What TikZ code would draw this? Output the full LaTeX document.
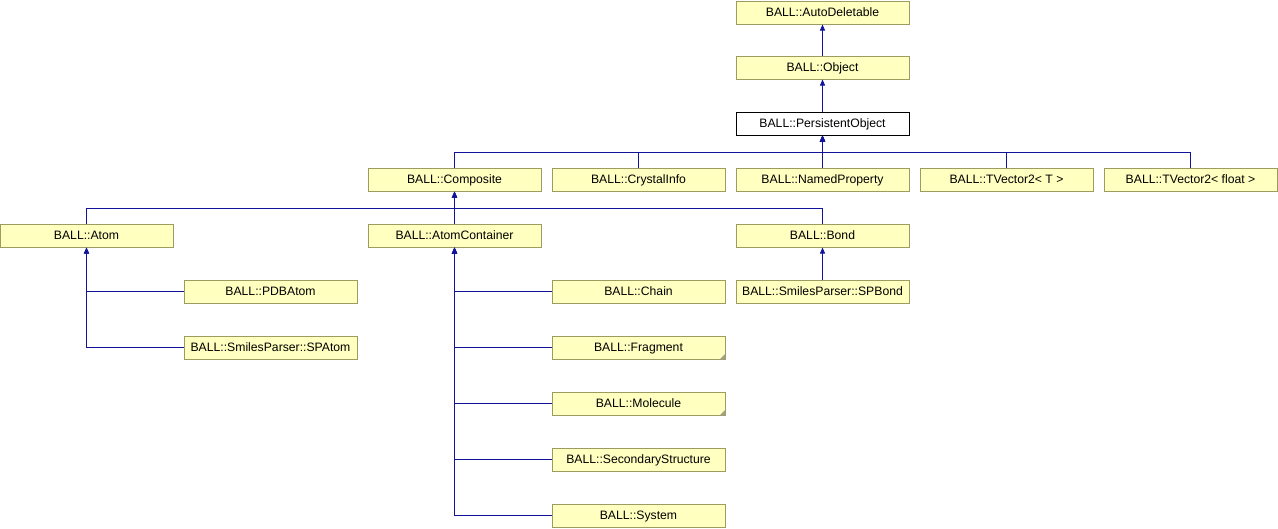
\documentclass[tikz,border=0pt]{standalone}
\usepackage{fontspec}
\setmainfont{Liberation Sans}
\usetikzlibrary{arrows.meta}
\definecolor{boxfill}{HTML}{FFFFC0}
\definecolor{boxedge}{HTML}{9C9C60}
\definecolor{edgeblue}{HTML}{12129A}
\definecolor{foldc}{HTML}{A0A080}
\begin{document}
\begin{tikzpicture}[x=1pt,y=-1pt,
  cls/.style={draw=boxedge,fill=boxfill,line width=1pt,minimum width=173pt,minimum height=23pt,inner sep=0pt,text height=8.8pt,text depth=0.6pt,font=\fontsize{12.2}{14}\selectfont},
  cur/.style={cls,draw=black,fill=white},
  inh/.style={draw=edgeblue,line width=1pt,-{Triangle[length=6pt,width=5pt]}},
  fold/.style={fill=foldc,draw=none}]
\useasboundingbox (0,0) rectangle (1278,528);
% rows
\node[cls] (auto) at (822.5,12.5) {BALL::AutoDeletable};
\node[cls] (obj) at (822.5,67.5) {BALL::Object};
\node[cur] (pers) at (822.5,123.5) {BALL::PersistentObject};
\node[cls] (comp) at (454.5,179.5) {BALL::Composite};
\node[cls] (crys) at (638.5,179.5) {BALL::CrystalInfo};
\node[cls] (named) at (822.5,179.5) {BALL::NamedProperty};
\node[cls] (tvt) at (1006.5,179.5) {BALL::TVector2< T >};
\node[cls] (tvf) at (1190.5,179.5) {BALL::TVector2< float >};
\node[cls] (atom) at (86.5,235.5) {BALL::Atom};
\node[cls] (ac) at (454.5,235.5) {BALL::AtomContainer};
\node[cls] (bond) at (822.5,235.5) {BALL::Bond};
\node[cls] (pdb) at (270.5,291.5) {BALL::PDBAtom};
\node[cls] (spatom) at (270.5,347.5) {BALL::SmilesParser::SPAtom};
\node[cls] (chain) at (638.5,291.5) {BALL::Chain};
\node[cls] (frag) at (638.5,347.5) {BALL::Fragment};
\node[cls] (mol) at (638.5,403.5) {BALL::Molecule};
\node[cls] (sec) at (638.5,459.5) {BALL::SecondaryStructure};
\node[cls] (sys) at (638.5,515.5) {BALL::System};
\node[cls] (spbond) at (822.5,291.5) {BALL::SmilesParser::SPBond};
% folded corners
\fill[fold] ([xshift=-6pt]frag.south east) -- ([yshift=6pt]frag.south east) -- (frag.south east) -- cycle;
\fill[fold] ([xshift=-6pt]mol.south east) -- ([yshift=6pt]mol.south east) -- (mol.south east) -- cycle;
% bus coordinates
\coordinate (bus1) at (0,152);
\coordinate (bus2) at (0,208);
% edges
\draw[inh] (obj.north) -- (auto.south);
\draw[inh] (pers.north) -- (obj.south);
\foreach \c in {comp,crys,named,tvt,tvf}
  \draw[inh] (\c.north) -- (\c.north |- bus1) -- (pers.south |- bus1) -- (pers.south);
\foreach \c in {atom,ac,bond}
  \draw[inh] (\c.north) -- (\c.north |- bus2) -- (comp.south |- bus2) -- (comp.south);
\foreach \c in {pdb,spatom}
  \draw[inh] (\c.west) -- (\c.west -| atom.south) -- (atom.south);
\foreach \c in {chain,frag,mol,sec,sys}
  \draw[inh] (\c.west) -- (\c.west -| ac.south) -- (ac.south);
\draw[inh] (spbond.north) -- (bond.south);
\end{tikzpicture}
\end{document}
